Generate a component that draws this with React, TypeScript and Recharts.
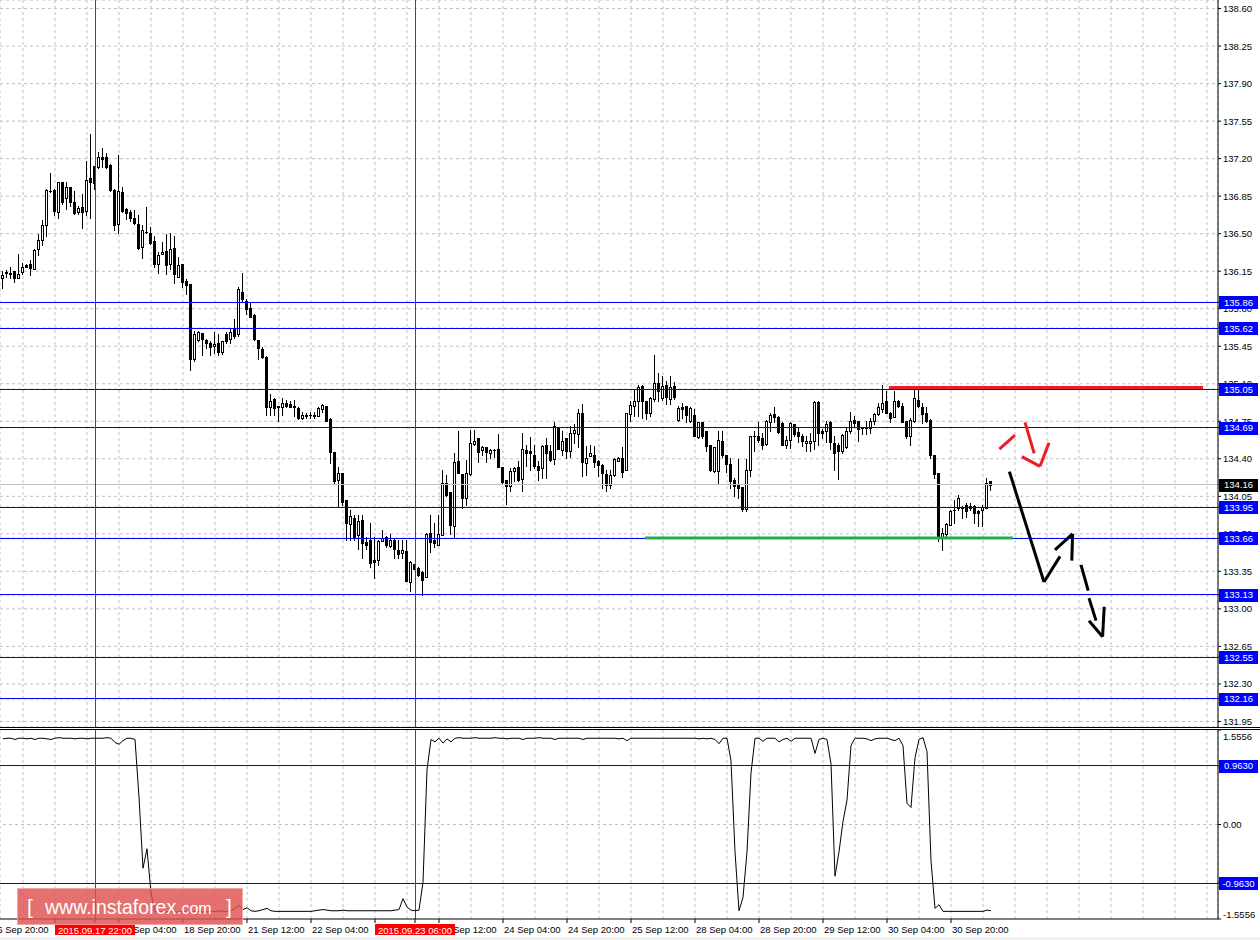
import React from "react";
import { ComposedChart, Bar, Line, XAxis, YAxis, CartesianGrid, ReferenceLine } from "recharts";

const FONT = '"Liberation Sans", Arial, sans-serif';

// H1 candles, bar 0 = 16 Sep 23:00, one bar per hour (weekend skipped)
const opens = [
  136.09, 136.14, 136.13, 136.15, 136.09, 136.14, 136.21, 136.22, 136.17, 136.36,
  136.44, 136.58, 136.90, 136.91, 136.70, 136.98, 136.83, 136.94, 136.80, 136.70,
  136.75, 136.71, 137.02, 137.13, 137.12, 137.22, 137.22, 137.14, 136.91, 136.59,
  136.89, 136.73, 136.70, 136.65, 136.59, 136.38, 136.52, 136.51, 136.43, 136.22,
  136.31, 136.34, 136.22, 136.37, 136.10, 136.22, 136.06, 136.03, 135.33, 135.51,
  135.57, 135.51, 135.48, 135.45, 135.48, 135.40, 135.56, 135.52, 135.61, 135.56,
  135.96, 135.87, 135.81, 135.74, 135.51, 135.42, 135.35, 134.88, 134.96, 134.89,
  134.88, 134.92, 134.91, 134.89, 134.87, 134.78, 134.80, 134.81, 134.80, 134.80,
  134.86, 134.89, 134.77, 134.46, 134.20, 134.27, 134.02, 133.79, 133.85, 133.69,
  133.83, 133.62, 133.64, 133.46, 133.46, 133.63, 133.67, 133.59, 133.64, 133.55,
  133.52, 133.54, 133.25, 133.42, 133.38, 133.34, 133.30, 133.71, 133.64, 133.60,
  133.69, 134.17, 134.09, 133.77, 134.38, 134.26, 134.03, 134.26, 134.54, 134.59,
  134.48, 134.51, 134.45, 134.48, 134.49, 134.32, 134.20, 134.15, 134.29, 134.32,
  134.21, 134.48, 134.47, 134.44, 134.33, 134.31, 134.53, 134.47, 134.40, 134.69,
  134.48, 134.59, 134.47, 134.64, 134.63, 134.83, 134.36, 134.43, 134.44, 134.38,
  134.34, 134.26, 134.16, 134.25, 134.38, 134.41, 134.30, 134.82, 134.89, 134.94,
  135.08, 134.94, 134.83, 134.96, 135.11, 134.97, 135.09, 134.96, 135.08, 134.76,
  134.88, 134.89, 134.75, 134.81, 134.60, 134.74, 134.66, 134.53, 134.29, 134.29,
  134.57, 134.44, 134.35, 134.20, 134.16, 134.14, 133.93, 134.30, 134.61, 134.61,
  134.59, 134.54, 134.74, 134.82, 134.79, 134.73, 134.53, 134.58, 134.72, 134.65,
  134.61, 134.55, 134.55, 134.57, 134.93, 134.66, 134.66, 134.74, 134.55, 134.53,
  134.47, 134.51, 134.66, 134.76, 134.75, 134.69, 134.69, 134.69, 134.75, 134.82,
  134.86, 134.94, 134.83, 134.79, 134.94, 134.89, 134.75, 134.61, 134.75, 134.95,
  134.88, 134.83, 134.76, 134.44, 134.27, 133.66, 133.70, 133.78, 133.92, 133.94,
  133.94, 133.97, 133.94, 133.96, 133.91, 133.92, 133.94, 134.19,
];

const highs = [
  136.15, 136.16, 136.19, 136.15, 136.31, 136.23, 136.22, 136.25, 136.36, 136.50,
  136.63, 136.92, 137.07, 136.92, 136.98, 136.98, 136.98, 136.94, 136.90, 136.76,
  136.87, 137.18, 137.43, 137.13, 137.26, 137.30, 137.25, 137.15, 136.92, 137.23,
  136.94, 136.74, 136.72, 136.72, 136.67, 136.58, 136.75, 136.56, 136.48, 136.33,
  136.42, 136.50, 136.51, 136.48, 136.28, 136.22, 136.08, 136.03, 135.59, 135.59,
  135.57, 135.52, 135.50, 135.58, 135.56, 135.50, 135.58, 135.62, 135.70, 136.00,
  136.13, 135.89, 135.86, 135.75, 135.51, 135.44, 135.36, 135.00, 134.97, 134.89,
  134.97, 134.95, 134.94, 134.95, 134.88, 134.84, 134.83, 134.84, 134.84, 134.88,
  134.91, 134.89, 134.78, 134.46, 134.32, 134.27, 134.02, 133.92, 133.88, 133.88,
  133.88, 133.67, 133.80, 133.67, 133.64, 133.74, 133.68, 133.70, 133.66, 133.64,
  133.64, 133.64, 133.45, 133.42, 133.39, 133.35, 133.71, 133.88, 133.80, 133.88,
  134.30, 134.25, 134.09, 134.45, 134.66, 134.26, 134.39, 134.67, 134.67, 134.59,
  134.52, 134.51, 134.49, 134.49, 134.63, 134.32, 134.20, 134.31, 134.32, 134.38,
  134.64, 134.53, 134.60, 134.53, 134.38, 134.53, 134.59, 134.53, 134.74, 134.69,
  134.66, 134.59, 134.71, 134.72, 134.86, 134.91, 134.52, 134.53, 134.52, 134.39,
  134.35, 134.30, 134.30, 134.41, 134.42, 134.51, 134.83, 134.94, 135.05, 135.09,
  135.09, 134.94, 134.98, 135.37, 135.20, 135.17, 135.13, 135.17, 135.12, 134.89,
  134.92, 134.89, 134.88, 134.86, 134.74, 134.74, 134.66, 134.53, 134.51, 134.66,
  134.66, 134.44, 134.41, 134.22, 134.40, 134.14, 134.40, 134.61, 134.66, 134.74,
  134.64, 134.76, 134.83, 134.88, 134.80, 134.74, 134.61, 134.74, 134.72, 134.69,
  134.63, 134.61, 134.64, 134.94, 134.94, 134.68, 134.75, 134.75, 134.61, 134.55,
  134.63, 134.70, 134.84, 134.80, 134.75, 134.70, 134.75, 134.78, 134.83, 134.92,
  135.09, 135.03, 134.84, 135.03, 134.95, 134.92, 134.75, 134.78, 135.05, 135.07,
  134.92, 134.88, 134.77, 134.44, 134.27, 133.75, 133.80, 133.92, 134.02, 134.06,
  133.96, 133.99, 133.99, 133.97, 133.92, 133.97, 134.22, 134.19,
];

const lows = [
  135.99, 136.10, 136.09, 136.05, 136.09, 136.12, 136.19, 136.11, 136.17, 136.30,
  136.39, 136.48, 136.89, 136.67, 136.65, 136.78, 136.73, 136.76, 136.68, 136.68,
  136.55, 136.67, 136.65, 136.92, 137.11, 137.12, 137.11, 136.90, 136.53, 136.51,
  136.70, 136.64, 136.62, 136.59, 136.36, 136.27, 136.51, 136.40, 136.19, 136.13,
  136.31, 136.12, 136.17, 136.04, 136.10, 136.00, 135.94, 135.23, 135.31, 135.50,
  135.37, 135.43, 135.37, 135.39, 135.37, 135.38, 135.48, 135.48, 135.53, 135.55,
  135.87, 135.75, 135.72, 135.51, 135.33, 135.34, 134.81, 134.81, 134.81, 134.75,
  134.81, 134.88, 134.88, 134.80, 134.77, 134.77, 134.78, 134.78, 134.78, 134.80,
  134.84, 134.75, 134.36, 134.17, 133.95, 133.97, 133.64, 133.64, 133.64, 133.56,
  133.47, 133.56, 133.39, 133.29, 133.41, 133.63, 133.58, 133.58, 133.47, 133.47,
  133.47, 133.26, 133.17, 133.37, 133.31, 133.13, 133.30, 133.53, 133.58, 133.60,
  133.69, 134.05, 133.70, 133.66, 134.27, 133.94, 133.97, 134.25, 134.53, 134.37,
  134.44, 134.37, 134.41, 134.42, 134.32, 134.17, 133.98, 134.10, 134.19, 134.19,
  134.10, 134.33, 134.30, 134.31, 134.20, 134.22, 134.22, 134.38, 134.35, 134.49,
  134.44, 134.41, 134.42, 134.55, 134.51, 134.24, 134.25, 134.43, 134.32, 134.24,
  134.13, 134.10, 134.13, 134.24, 134.38, 134.23, 134.30, 134.75, 134.80, 134.80,
  134.78, 134.77, 134.80, 134.94, 134.94, 134.95, 134.91, 134.91, 134.96, 134.75,
  134.78, 134.74, 134.74, 134.61, 134.59, 134.59, 134.47, 134.29, 134.28, 134.17,
  134.42, 134.28, 134.13, 134.05, 134.03, 133.91, 133.91, 134.24, 134.47, 134.56,
  134.49, 134.53, 134.66, 134.74, 134.64, 134.53, 134.50, 134.50, 134.61, 134.56,
  134.52, 134.47, 134.47, 134.49, 134.53, 134.59, 134.56, 134.49, 134.30, 134.21,
  134.45, 134.50, 134.64, 134.70, 134.57, 134.63, 134.63, 134.64, 134.72, 134.81,
  134.84, 134.83, 134.74, 134.79, 134.88, 134.74, 134.59, 134.53, 134.74, 134.88,
  134.73, 134.74, 134.41, 134.22, 133.63, 133.55, 133.66, 133.78, 133.80, 133.92,
  133.85, 133.86, 133.92, 133.80, 133.77, 133.77, 133.94, 134.11,
];

const closes = [
  136.11, 136.13, 136.12, 136.09, 136.12, 136.19, 136.19, 136.18, 136.35, 136.44,
  136.58, 136.91, 136.90, 136.71, 136.98, 136.80, 136.94, 136.80, 136.69, 136.74,
  136.70, 137.00, 136.98, 136.97, 137.22, 137.20, 137.12, 136.91, 136.58, 136.90,
  136.71, 136.69, 136.65, 136.60, 136.37, 136.53, 136.52, 136.41, 136.22, 136.30,
  136.33, 136.21, 136.36, 136.12, 136.21, 136.05, 136.02, 135.33, 135.56, 135.58,
  135.52, 135.48, 135.44, 135.47, 135.40, 135.50, 135.50, 135.58, 135.55, 135.98,
  135.89, 135.80, 135.72, 135.52, 135.43, 135.35, 134.88, 134.94, 134.87, 134.88,
  134.92, 134.89, 134.88, 134.88, 134.78, 134.81, 134.81, 134.81, 134.81, 134.87,
  134.90, 134.75, 134.46, 134.19, 134.27, 134.00, 133.80, 133.87, 133.67, 133.82,
  133.61, 133.60, 133.43, 133.44, 133.63, 133.66, 133.60, 133.64, 133.56, 133.51,
  133.55, 133.26, 133.44, 133.37, 133.32, 133.27, 133.70, 133.62, 133.61, 133.70,
  134.17, 134.06, 133.78, 134.37, 134.27, 134.03, 134.27, 134.55, 134.57, 134.46,
  134.51, 134.46, 134.48, 134.48, 134.32, 134.18, 134.15, 134.29, 134.31, 134.20,
  134.49, 134.45, 134.45, 134.33, 134.30, 134.52, 134.45, 134.39, 134.71, 134.49,
  134.57, 134.47, 134.64, 134.67, 134.83, 134.37, 134.41, 134.45, 134.37, 134.34,
  134.27, 134.16, 134.25, 134.40, 134.41, 134.28, 134.83, 134.90, 134.94, 135.07,
  134.94, 134.83, 134.97, 135.11, 135.03, 135.08, 134.98, 135.07, 134.98, 134.87,
  134.86, 134.81, 134.87, 134.61, 134.74, 134.61, 134.52, 134.30, 134.51, 134.58,
  134.44, 134.35, 134.19, 134.15, 134.13, 133.93, 134.30, 134.61, 134.61, 134.58,
  134.53, 134.75, 134.81, 134.79, 134.65, 134.53, 134.58, 134.73, 134.63, 134.61,
  134.57, 134.57, 134.57, 134.93, 134.64, 134.64, 134.72, 134.56, 134.45, 134.47,
  134.62, 134.66, 134.75, 134.73, 134.68, 134.69, 134.69, 134.75, 134.82, 134.88,
  134.92, 134.83, 134.78, 134.94, 134.89, 134.74, 134.61, 134.76, 134.97, 134.89,
  134.82, 134.75, 134.44, 134.26, 133.66, 133.71, 133.79, 133.91, 133.92, 134.03,
  133.95, 133.91, 133.96, 133.89, 133.89, 133.95, 134.17, 134.16,
];

// oscillator in the lower window
const oscValues = [
  1.41, 1.42, 1.42, 1.40, 1.42, 1.42, 1.41, 1.42, 1.40, 1.42,
  1.42, 1.41, 1.40, 1.42, 1.43, 1.42, 1.42, 1.42, 1.41, 1.42,
  1.42, 1.41, 1.42, 1.42, 1.42, 1.42, 1.43, 1.42, 1.35, 1.32,
  1.38, 1.42, 1.42, 1.40, 0.45, -0.72, -0.40, -1.13, -1.44, -1.43,
  -1.44, -1.44, -1.43, -1.44, -1.44, -1.43, -1.44, -1.44, -1.43, -1.43,
  -1.44, -1.44, -1.43, -1.43, -1.42, -1.43, -1.43, -1.42, -1.38, -1.33,
  -1.40, -1.37, -1.42, -1.43, -1.42, -1.40, -1.38, -1.42, -1.43, -1.43,
  -1.43, -1.43, -1.43, -1.43, -1.43, -1.43, -1.43, -1.43, -1.42, -1.41,
  -1.40, -1.41, -1.42, -1.42, -1.42, -1.41, -1.42, -1.42, -1.42, -1.42,
  -1.42, -1.42, -1.42, -1.42, -1.42, -1.42, -1.42, -1.42, -1.41, -1.40,
  -1.22, -1.36, -1.41, -1.42, -1.41, -0.95, 0.90, 1.40, 1.36, 1.42,
  1.34, 1.41, 1.36, 1.42, 1.43, 1.42, 1.42, 1.42, 1.43, 1.42,
  1.42, 1.42, 1.42, 1.43, 1.42, 1.42, 1.41, 1.42, 1.42, 1.42,
  1.40, 1.42, 1.42, 1.42, 1.43, 1.42, 1.42, 1.42, 1.40, 1.42,
  1.42, 1.42, 1.42, 1.42, 1.42, 1.40, 1.42, 1.42, 1.42, 1.42,
  1.42, 1.42, 1.42, 1.42, 1.41, 1.42, 1.38, 1.42, 1.42, 1.42,
  1.42, 1.42, 1.42, 1.42, 1.42, 1.42, 1.42, 1.42, 1.42, 1.42,
  1.42, 1.42, 1.42, 1.42, 1.41, 1.42, 1.41, 1.42, 1.40, 1.33,
  1.42, 1.42, 1.05, -0.45, -1.42, -1.20, -0.45, 0.85, 1.42, 1.42,
  1.37, 1.42, 1.42, 1.42, 1.36, 1.40, 1.42, 1.37, 1.42, 1.42,
  1.42, 1.42, 1.42, 1.17, 1.40, 1.42, 1.40, 1.00, -0.85, -0.45,
  0.05, 0.40, 1.30, 1.42, 1.42, 1.42, 1.41, 1.38, 1.41, 1.42,
  1.42, 1.42, 1.40, 1.38, 1.42, 1.30, 0.35, 0.28, 1.10, 1.40,
  1.43, 1.20, -0.60, -1.38, -1.32, -1.43, -1.43, -1.43, -1.43, -1.43,
  -1.43, -1.43, -1.43, -1.43, -1.43, -1.43, -1.41, -1.42,
];

const priceTicks = [
  138.6, 138.25, 137.9, 137.55, 137.2, 136.85, 136.5, 136.15, 135.8, 135.45,
  135.1, 134.75, 134.4, 134.05, 133.7, 133.35, 133.0, 132.65, 132.3, 131.95,
];
const levels = [135.86, 135.62, 135.05, 134.69, 133.95, 133.66, 133.13, 132.55, 132.16];
const lastPrice = 134.16;
const oscTicks = [1.5556, 0, -1.5556];
const oscLevels = [0.963, -0.963];

const timeBars = [-3, 13, 29, 45, 61, 77, 93, 109, 125, 141, 157, 173, 189, 205, 221, 237];
const timeLabels = [
  "16 Sep 20:00", "17 Sep 12:00", "18 Sep 04:00", "18 Sep 20:00", "21 Sep 12:00", "22 Sep 04:00",
  "22 Sep 20:00", "23 Sep 12:00", "24 Sep 04:00", "24 Sep 20:00", "25 Sep 12:00", "28 Sep 04:00",
  "28 Sep 20:00", "29 Sep 12:00", "30 Sep 04:00", "30 Sep 20:00",
];
const markerBars = [23, 103];
const markerLabels = ["2015.09.17 22:00", "2015.09.23 06:00"];
const gridBars = Array.from({ length: 38 }, (_, j) => 5 + 8 * j);

// drawn objects: [bar, price]
const resistance = [[221.5, 135.065], [300, 135.065]];
const support = [[160.5, 133.66], [252.5, 133.66]];
const redStrokes = [
  [[249.1, 134.49], [253.0, 134.62]],
  [[255.5, 134.74], [257.8, 134.45]],
  [[254.7, 134.42], [259.25, 134.33]],
  [[259.25, 134.33], [261.5, 134.55]],
];
const blackStrokes = [
  [[251.6, 134.28], [260.25, 133.25]],
  [[260.25, 133.25], [264.25, 133.49]],
  [[263.0, 133.55], [267.4, 133.70]],
  [[267.4, 133.70], [267.2, 133.45]],
  [[269.5, 133.41], [271.3, 133.17]],
  [[271.5, 133.10], [273.25, 132.89]],
  [[271.5, 132.89], [274.9, 132.74]],
  [[274.9, 132.74], [275.3, 133.02]],
];

const X_DOMAIN: [number, number] = [-0.75, 303.75];
const PRICE_DOMAIN: [number, number] = [131.898, 138.68];
const OSC_DOMAIN: [number, number] = [-1.5556, 1.5556];
const AXIS_FS = 9.5;

const rows = opens.map((open, i) => ({
  i,
  open,
  high: highs[i],
  low: lows[i],
  close: closes[i],
  range: [lows[i], highs[i]],
  osc: oscValues[i],
}));

// plain ticks first, tagged values last so the tags paint over the tick text
const priceAxisTicks = [...priceTicks, lastPrice, ...levels];
const oscAxisTicks = [...oscTicks, ...oscLevels];
const timeAxisTicks = [...timeBars, ...markerBars];

const seg = (p: number[][]) => [{ x: p[0][0], y: p[0][1] }, { x: p[1][0], y: p[1][1] }];

function Candle(props: any) {
  const { x, y, width, height, payload } = props;
  if (x == null || !payload) return null;
  const top = Math.min(y, y + height);
  const bottom = Math.max(y, y + height);
  const { open, close, high, low } = payload;
  const span = high - low;
  const toY = (v: number) => (span > 0 ? top + ((high - v) / span) * (bottom - top) : top);
  const cx = Math.round(x + width / 2);
  const b0 = Math.round(Math.min(toY(open), toY(close)));
  const b1 = Math.round(Math.max(toY(open), toY(close)));
  const up = close >= open;
  return (
    <g shapeRendering="crispEdges">
      <line x1={cx - 0.5} x2={cx - 0.5} y1={Math.round(top)} y2={Math.round(bottom) + 1} stroke="#000" />
      {b1 - b0 < 1 ? (
        <line x1={cx - 2} x2={cx + 1} y1={b0 + 0.5} y2={b0 + 0.5} stroke="#000" />
      ) : (
        <rect x={cx - 1.5} y={b0 + 0.5} width={2} height={b1 - b0} fill={up ? "#fff" : "#000"} stroke="#000" />
      )}
    </g>
  );
}

function tagBox(x: number, y: number, text: string, fill: string) {
  return (
    <g>
      <rect x={x} y={Math.round(y) - 6} width={39} height={13} fill={fill} />
      <text x={x + 19.5} y={y + 3.5} textAnchor="middle" fill="#fff" fontSize={AXIS_FS} fontFamily={FONT}>
        {text}
      </text>
    </g>
  );
}

const PriceTick = ({ x, y, payload }: any) => {
  const v = Number(payload.value);
  if (v === lastPrice) return tagBox(x - 4, y, v.toFixed(2), "#000");
  if (levels.includes(v)) return tagBox(x - 4, y, v.toFixed(2), "#0000ff");
  return (
    <text x={x} y={y} dy={3.5} fontSize={AXIS_FS} fontFamily={FONT} fill="#000">
      {v.toFixed(2)}
    </text>
  );
};

const OscTick = ({ x, y, payload }: any) => {
  const v = Number(payload.value);
  if (oscLevels.includes(v)) return tagBox(x - 4, y, v.toFixed(4), "#0000ff");
  const dy = v > 1 ? 10 : v < -1 ? -1 : 3.5;
  return (
    <text x={x} y={y} dy={dy} fontSize={AXIS_FS} fontFamily={FONT} fill="#000">
      {v === 0 ? "0.00" : v.toFixed(4)}
    </text>
  );
};

const TimeTick = ({ x, y, payload }: any) => {
  const v = Number(payload.value);
  const m = markerBars.indexOf(v);
  if (m >= 0) {
    return (
      <g>
        <rect x={Math.round(x) - 40} y={y - 1} width={80} height={11} fill="#ff0000" />
        <text x={x} y={y + 8.5} textAnchor="middle" fill="#fff" fontSize={AXIS_FS} fontFamily={FONT}>
          {markerLabels[m]}
        </text>
      </g>
    );
  }
  return (
    <text x={x + 1} y={y + 8} fontSize={AXIS_FS} fontFamily={FONT} fill="#000">
      {timeLabels[timeBars.indexOf(v)]}
    </text>
  );
};

export default function App() {
  return (
    <div
      style={{
        position: "absolute",
        left: 0,
        top: 0,
        width: 1260,
        height: 940,
        background: "#fff",
        overflow: "hidden",
        fontFamily: FONT,
      }}
    >
      <div style={{ position: "absolute", left: 0, top: 0, width: 1260, height: 727, borderBottom: "1px solid #000" }}>
        <ComposedChart width={1260} height={727} data={rows} margin={{ top: 0, right: 0, bottom: 0, left: 0 }}>
          <CartesianGrid stroke="#c0c0c0" strokeDasharray="3 3" />
          <XAxis dataKey="i" type="number" domain={X_DOMAIN} allowDataOverflow ticks={gridBars} hide />
          <YAxis
            orientation="right"
            type="number"
            width={42}
            domain={PRICE_DOMAIN}
            allowDataOverflow
            ticks={priceAxisTicks}
            interval={0}
            tick={PriceTick}
            tickSize={3}
            tickLine={{ stroke: "#000" }}
            axisLine={{ stroke: "#000" }}
          />
          <ReferenceLine y={lastPrice} stroke="#c0c0c0" shapeRendering="crispEdges" />
          <Bar dataKey="range" shape={Candle} barSize={3} isAnimationActive={false} />
          {levels.map((v) => (
            <ReferenceLine key={v} y={v} stroke="#0000ff" shapeRendering="crispEdges" />
          ))}
          {markerBars.map((b) => (
            <ReferenceLine key={b} x={b} stroke="#ff0000" shapeRendering="crispEdges" />
          ))}
          <ReferenceLine segment={seg(resistance)} stroke="#ee1c24" strokeWidth={3} />
          <ReferenceLine segment={seg(support)} stroke="#22ad4a" strokeWidth={3} />
          {redStrokes.map((s, k) => (
            <ReferenceLine key={"r" + k} segment={seg(s)} stroke="#ee1c24" strokeWidth={3} />
          ))}
          {blackStrokes.map((s, k) => (
            <ReferenceLine key={"b" + k} segment={seg(s)} stroke="#000" strokeWidth={3} />
          ))}
        </ComposedChart>
      </div>

      <div style={{ position: "absolute", left: 0, top: 729, width: 1260, height: 210, borderTop: "1px solid #000" }}>
        <ComposedChart width={1260} height={210} data={rows} margin={{ top: 0, right: 0, bottom: 0, left: 0 }}>
          <CartesianGrid xAxisId="grid" horizontal={false} stroke="#c0c0c0" strokeDasharray="3 3" />
          <XAxis xAxisId="grid" dataKey="i" type="number" domain={X_DOMAIN} allowDataOverflow ticks={gridBars} hide />
          <XAxis
            dataKey="i"
            type="number"
            domain={X_DOMAIN}
            allowDataOverflow
            ticks={timeAxisTicks}
            interval={0}
            height={21}
            tick={TimeTick}
            tickSize={4}
            tickLine={{ stroke: "#000" }}
            axisLine={{ stroke: "#000" }}
          />
          <YAxis
            orientation="right"
            type="number"
            width={42}
            domain={OSC_DOMAIN}
            allowDataOverflow
            ticks={oscAxisTicks}
            interval={0}
            tick={OscTick}
            tickSize={3}
            tickLine={{ stroke: "#000" }}
            axisLine={{ stroke: "#000" }}
          />
          <ReferenceLine y={0} stroke="#c0c0c0" strokeDasharray="3 3" shapeRendering="crispEdges" />
          {oscLevels.map((v) => (
            <ReferenceLine key={v} y={v} stroke="#0000ff" shapeRendering="crispEdges" />
          ))}
          {markerBars.map((b) => (
            <ReferenceLine key={b} x={b} stroke="#ff0000" shapeRendering="crispEdges" />
          ))}
          <Line dataKey="osc" type="linear" stroke="#000" strokeWidth={1} dot={false} activeDot={false} isAnimationActive={false} />
        </ComposedChart>
      </div>

      <div
        style={{
          position: "absolute",
          left: 17,
          top: 888,
          width: 226,
          height: 37,
          boxSizing: "border-box",
          background: "rgba(222, 80, 80, 0.82)",
          border: "1px solid rgba(255, 200, 200, 0.6)",
        }}
      >
        <svg width={226} height={37} style={{ position: "absolute", left: -1, top: -1 }}>
          <text y={26} fill="#fff" fontFamily={FONT}>
            <tspan x={10} fontSize={21}>[</tspan>
            <tspan x={28} fontSize={19.5}>www.instaforex</tspan>
            <tspan x={160} fontSize={16}>.com</tspan>
            <tspan x={209} fontSize={21}>]</tspan>
          </text>
        </svg>
      </div>
      <div style={{ position: "absolute", left: 0, top: 937, width: 1260, height: 3, background: "#f0f0f0" }} />
    </div>
  );
}
